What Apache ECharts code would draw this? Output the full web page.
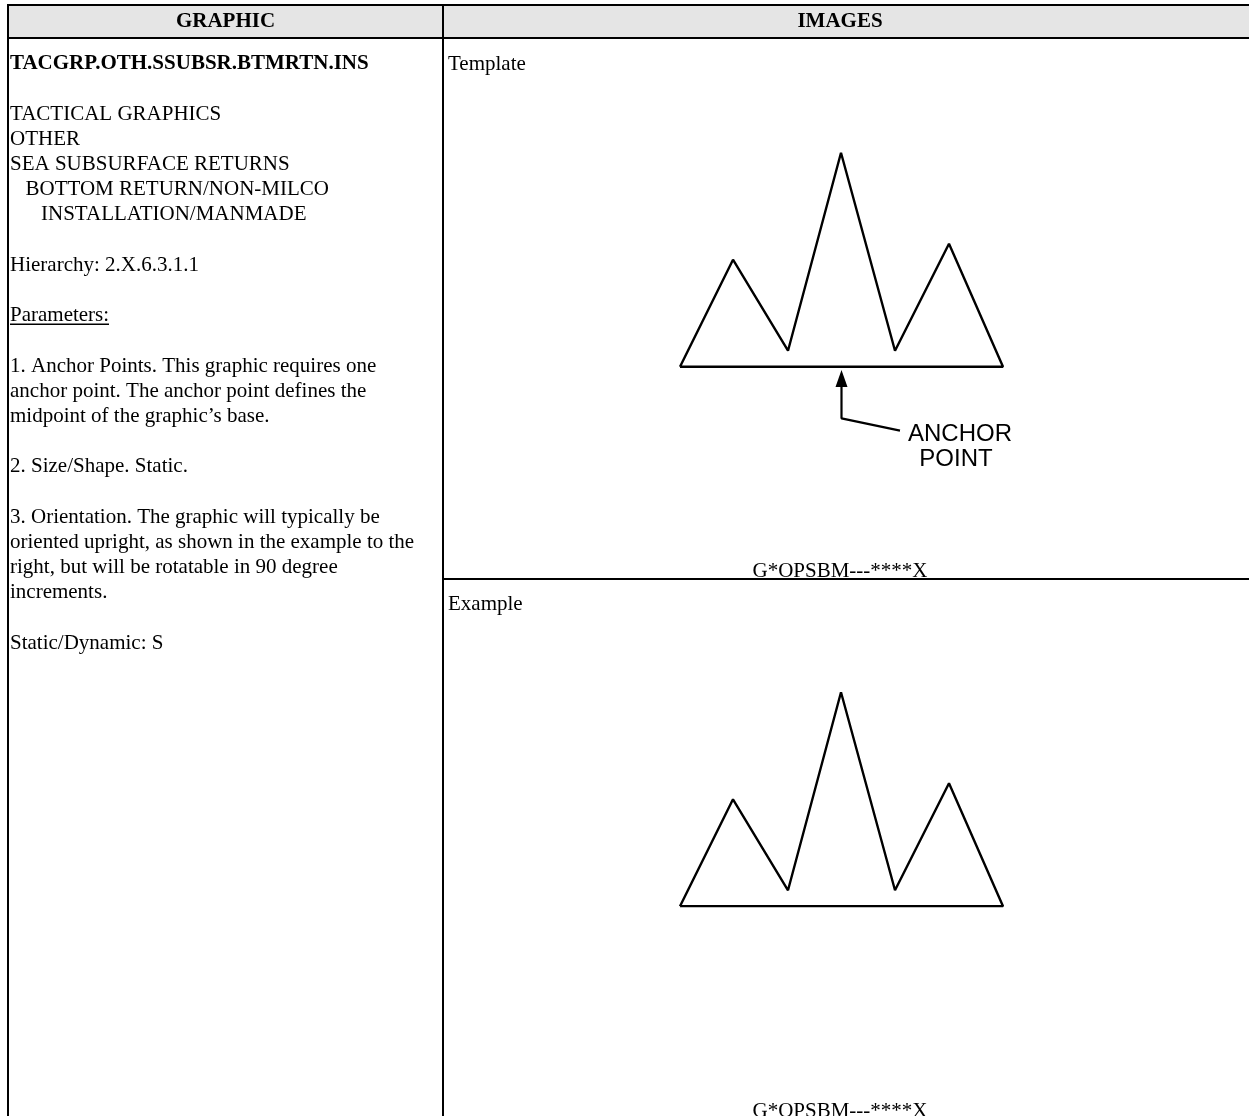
<!DOCTYPE html>
<html>
<head>
<meta charset="utf-8">
<script src="https://cdn.jsdelivr.net/npm/echarts@6/dist/echarts.min.js"></script>
<style>
html,body{margin:0;padding:0;background:#fff;}
#main{width:1249px;height:1116px;}
</style>
</head>
<body>
<div id="main"></div>
<script>
// ---- data ----
const headers = ['GRAPHIC', 'IMAGES'];
const symbolId = 'TACGRP.OTH.SSUBSR.BTMRTN.INS';
const hierarchyLines = ['TACTICAL GRAPHICS', 'OTHER', 'SEA SUBSURFACE RETURNS', 'BOTTOM RETURN/NON-MILCO', 'INSTALLATION/MANMADE'];
const hierarchyIndent = [0, 0, 0, 1, 2];
const hierarchyCode = 'Hierarchy: 2.X.6.3.1.1';
const paramTitle = 'Parameters:';
const paramLines = [
  ['1. Anchor Points. This graphic requires one', 'anchor point. The anchor point defines the', 'midpoint of the graphic\u2019s base.'],
  ['2. Size/Shape. Static.'],
  ['3. Orientation. The graphic will typically be', 'oriented upright, as shown in the example to the', 'right, but will be rotatable in 90 degree', 'increments.'],
  ['Static/Dynamic: S']
];
const panelTitles = ['Template', 'Example'];
const symbolCode = 'G*OPSBM---****X';
const anchorLabel = ['ANCHOR', 'POINT'];
// mountain outline (closed), units = px of original drawing, base at y=0
const outlineX = [0, 53, 108, 161, 215, 269, 323, 0];
const outlineY = [0, 107, 16, 214, 16, 123, 0, 0];
// anchor leader line and arrow tip (template only)
const leaderX = [220, 161.5, 161.5];
const leaderY = [-64, -51.6, -18];
const arrowTip = [161.5, -11.7];

// ---- build ----
const serif = '"Liberation Serif","Times New Roman",serif';
const g = [];
function txt(t, x, y, opt) {
  opt = opt || {};
  g.push({type:'text', silent:true, style:{text:t, x:x, y:y,
    font:(opt.bold?'bold ':'') + (opt.size||21) + 'px ' + (opt.family||serif),
    fill:'#000', textAlign:opt.align||'left', textVerticalAlign:'middle'}});
}
function box(x, y, w, h, c) {
  g.push({type:'rect', silent:true, shape:{x:x,y:y,width:w,height:h}, style:{fill:c||'#000'}});
}
// table
box(9, 6, 1240, 31, '#e5e5e5');
box(7, 4, 1242, 2);
box(7, 37, 1242, 2);
box(7, 4, 2, 1112);
box(442, 4, 2, 1112);
box(442, 578, 807, 2);
txt(headers[0], 225.5, 22, {bold:true, align:'center'});
txt(headers[1], 840, 22, {bold:true, align:'center'});

// left column
const LH = 25.2, MID = 4;
let base = 68;
txt(symbolId, 10, base - MID, {bold:true});
base += 50;
hierarchyLines.forEach((l, i) => { txt(l, 10 + hierarchyIndent[i]*15.5, base - MID); base += LH; });
base += LH;
txt(hierarchyCode, 10, base - MID); base += 2*LH;
txt(paramTitle, 10, base - MID);
g.push({type:'rect', silent:true, shape:{x:10,y:base+4,width:99,height:1.3}, style:{fill:'#000'}});
base += 2*LH;
paramLines.forEach(block => { block.forEach(l => { txt(l, 10, base - MID); base += LH; }); base += LH; });

// right column
txt(panelTitles[0], 448, 68 - MID);
txt(panelTitles[1], 448, 608 - MID);
txt(symbolCode, 840, 575 - MID, {align:'center'});
txt(symbolCode, 840, 1115 - MID, {align:'center'});
txt(anchorLabel[0], 960, 434, {align:'center', size:24, family:'"Liberation Sans",Arial,sans-serif'});
txt(anchorLabel[1], 956, 459, {align:'center', size:24, family:'"Liberation Sans",Arial,sans-serif'});

const outline = outlineX.map((x, i) => [x, outlineY[i]]);
const leader = leaderX.map((x, i) => [x, leaderY[i]]);
const lineStyle = {color:'#000', width:2.4};

const option = {
  animation:false,
  backgroundColor:'#fff',
  graphic:g,
  grid:[
    {left:680, top:152.7, width:323, height:294},
    {left:680, top:692.3, width:323, height:214}
  ],
  xAxis:[
    {type:'value', gridIndex:0, min:0, max:323, show:false},
    {type:'value', gridIndex:1, min:0, max:323, show:false}
  ],
  yAxis:[
    {type:'value', gridIndex:0, min:-80, max:214, show:false},
    {type:'value', gridIndex:1, min:0, max:214, show:false}
  ],
  series:[
    {type:'line', xAxisIndex:0, yAxisIndex:0, data:outline, symbol:'none', lineStyle:lineStyle, silent:true},
    {type:'line', xAxisIndex:0, yAxisIndex:0, data:leader, symbol:'none', lineStyle:{color:'#000', width:2.2}, silent:true},
    {type:'scatter', xAxisIndex:0, yAxisIndex:0, data:[arrowTip], symbol:'triangle', symbolSize:[12,17], itemStyle:{color:'#000', opacity:1}, silent:true},
    {type:'line', xAxisIndex:1, yAxisIndex:1, data:outline, symbol:'none', lineStyle:lineStyle, silent:true}
  ]
};
const chart = echarts.init(document.getElementById('main'), null, {renderer:'canvas'});
chart.setOption(option);
</script>
</body>
</html>
